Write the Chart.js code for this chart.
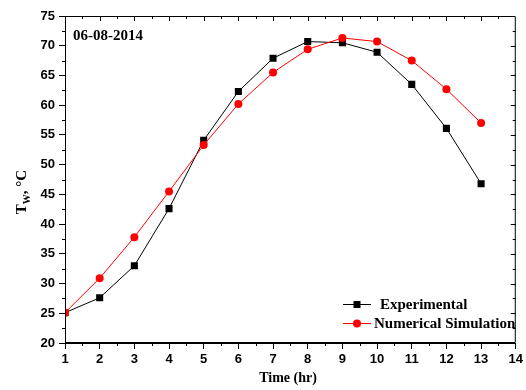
<!DOCTYPE html>
<html>
<head>
<meta charset="utf-8">
<script src="https://cdn.jsdelivr.net/npm/chart.js@4.4.0/dist/chart.umd.min.js"></script>
<style>
    body { margin: 0; background: #fff; }
    #wrap { width: 526px; height: 390px; }
</style>
</head>
<body>
<div id="wrap"><canvas id="twChart" width="526" height="390"></canvas></div>
<script>
// data
var hours = [1, 2, 3, 4, 5, 6, 7, 8, 9, 10, 11, 12, 13];
var experimental = [25.1, 27.6, 33.0, 42.6, 54.1, 62.3, 67.9, 70.7, 70.5, 68.9, 63.5, 56.1, 46.8];
var simulation = [25.1, 30.9, 37.8, 45.5, 53.3, 60.2, 65.5, 69.4, 71.3, 70.7, 67.5, 62.7, 57.0];
var seriesNames = ['Experimental', 'Numerical Simulation'];
var dateLabel = '06-08-2014';

var tickFont = { family: "'Liberation Sans', Arial, sans-serif", size: 13, weight: 'bold' };
var serif = "'Liberation Serif', 'Times New Roman', serif";

function toPoints(vals) {
    return hours.map(function (h, i) { return { x: h, y: vals[i] }; });
}

// frame, minor ticks, titles and legend in the Origin look
var extrasPlugin = {
    id: 'extras',
    afterDraw: function (chart) {
        var ctx = chart.ctx;
        var a = chart.chartArea;
        var xs = chart.scales.x;
        var ys = chart.scales.y;
        var v, p;
        ctx.save();
        ctx.strokeStyle = '#000';
        ctx.lineWidth = 1;
        ctx.beginPath();
        ctx.rect(a.left + 0.5, a.top + 0.5, a.right - a.left - 1, a.bottom - a.top - 1);
        ctx.stroke();

        ctx.beginPath();
        for (v = 1.5; v < 14; v += 1) { // bottom minor, outward
            p = Math.round(xs.getPixelForValue(v)) + 0.5;
            ctx.moveTo(p, a.bottom); ctx.lineTo(p, a.bottom + 3);
        }
        for (v = 1; v < 14; v += 0.5) { // top, inward
            p = Math.round(xs.getPixelForValue(v)) + 0.5;
            ctx.moveTo(p, a.top); ctx.lineTo(p, a.top + (v % 1 ? 3 : 5));
        }
        for (v = 22.5; v < 75; v += 5) { // left minor, outward
            p = Math.round(ys.getPixelForValue(v)) + 0.5;
            ctx.moveTo(a.left, p); ctx.lineTo(a.left - 3, p);
        }
        for (v = 22.5; v < 75; v += 2.5) { // right, inward
            p = Math.round(ys.getPixelForValue(v)) + 0.5;
            ctx.moveTo(a.right, p); ctx.lineTo(a.right - (v % 5 ? 3 : 5), p);
        }
        ctx.stroke();

        ctx.fillStyle = '#000';
        ctx.font = 'bold 15px ' + serif;
        ctx.textBaseline = 'middle';
        ctx.textAlign = 'left';
        ctx.fillText(dateLabel, 73, 36);

        // x title
        ctx.font = 'bold 14px ' + serif;
        ctx.textAlign = 'center';
        ctx.fillText('Time (hr)', 288, 378);

        // y title with subscript W
        ctx.save();
        ctx.translate(22, 192);
        ctx.rotate(-Math.PI / 2);
        ctx.textAlign = 'left';
        ctx.font = 'bold 15px ' + serif;
        var wT = ctx.measureText('T').width;
        var wR = ctx.measureText(', \u00B0C').width;
        ctx.font = 'bold 10px ' + serif;
        var wW = ctx.measureText('W').width;
        var x0 = -(wT + wW + wR) / 2;
        ctx.font = 'bold 15px ' + serif;
        ctx.fillText('T', x0, 0);
        ctx.fillText(', \u00B0C', x0 + wT + wW, 0);
        ctx.font = 'bold 10px ' + serif;
        ctx.fillText('W', x0 + wT, 5);
        ctx.restore();

        // legend inside plot
        var rows = [{ ds: 0, y: 304, tx: 380 }, { ds: 1, y: 323, tx: 374 }];
        ctx.font = 'bold 15px ' + serif;
        ctx.textAlign = 'left';
        rows.forEach(function (r) {
            var ds = chart.data.datasets[r.ds];
            var cy = r.y + 0.5;
            ctx.strokeStyle = ds.borderColor;
            ctx.beginPath();
            ctx.moveTo(343, cy); ctx.lineTo(371, cy);
            ctx.stroke();
            ctx.fillStyle = ds.pointBackgroundColor;
            ctx.beginPath();
            if (ds.pointStyle === 'rect') {
                ctx.rect(357 - 3.5, cy - 3.5, 7, 7);
            } else {
                ctx.arc(357, cy, ds.pointRadius, 0, Math.PI * 2);
            }
            ctx.fill();
            ctx.fillStyle = '#000';
            ctx.fillText(seriesNames[r.ds], r.tx, r.y + 1);
        });
        ctx.restore();
    }
};

var ctx = document.getElementById('twChart').getContext('2d');
var chart = new Chart(ctx, {
    type: 'line',
    data: {
        datasets: [{
            label: seriesNames[0],
            data: toPoints(experimental),
            borderColor: '#000000',
            backgroundColor: '#000000',
            pointBackgroundColor: '#000000',
            pointBorderColor: '#000000',
            pointStyle: 'rect',
            pointRadius: 5,
            borderWidth: 1,
            pointBorderWidth: 0,
            tension: 0,
            order: 1
        }, {
            label: seriesNames[1],
            data: toPoints(simulation),
            borderColor: '#ff0000',
            backgroundColor: '#ff0000',
            pointBackgroundColor: '#ff0000',
            pointBorderColor: '#ff0000',
            pointStyle: 'circle',
            pointRadius: 4,
            borderWidth: 1,
            pointBorderWidth: 0,
            tension: 0,
            order: 0
        }]
    },
    options: {
        responsive: false,
        animation: false,
        layout: { padding: { left: 0, right: 10, top: 16, bottom: 0 } },
        plugins: {
            legend: { display: false },
            tooltip: { enabled: false }
        },
        scales: {
            x: {
                type: 'linear',
                min: 1, max: 14,
                ticks: { stepSize: 1, color: '#000', font: tickFont, padding: 3, maxRotation: 0 },
                grid: { drawOnChartArea: false, tickLength: 6, tickColor: '#000' },
                border: { display: true, color: '#000' },
                afterFit: function (s) { s.height = 47; }
            },
            y: {
                min: 20, max: 75,
                ticks: { stepSize: 5, color: '#000', font: tickFont, padding: 4 },
                grid: { drawOnChartArea: false, tickLength: 6, tickColor: '#000' },
                border: { display: true, color: '#000' },
                afterFit: function (s) { s.width = 65; }
            }
        }
    },
    plugins: [extrasPlugin]
});
</script>
</body>
</html>
